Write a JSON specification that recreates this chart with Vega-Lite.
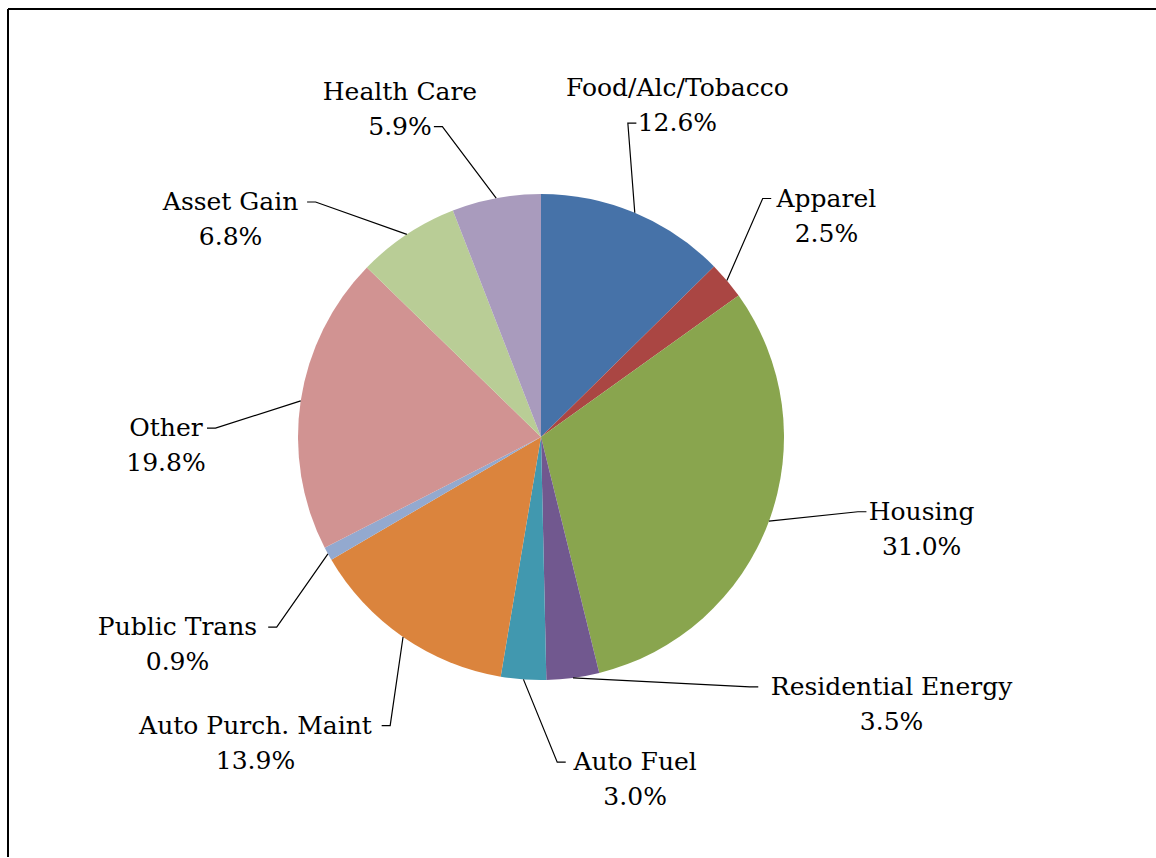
{
  "$schema": "https://vega.github.io/schema/vega-lite/v6.json",
  "autosize": "none",
  "padding": {"left": 8, "top": 9, "right": 0, "bottom": 0},
  "width": 1148,
  "height": 848,
  "background": "white",
  "view": {"stroke": "black", "strokeWidth": 2, "strokeDash": [1148, 1996, 848, 0]},
  "config": {
    "view": {"stroke": "black", "strokeWidth": 2},
    "text": {"font": "DejaVu Serif", "fontSize": 25, "lineHeight": 35, "color": "black"}
  },
  "data": {
    "values": [
      {"category": "Food/Alc/Tobacco", "value": 12.6},
      {"category": "Apparel", "value": 2.5},
      {"category": "Housing", "value": 31.0},
      {"category": "Residential Energy", "value": 3.5},
      {"category": "Auto Fuel", "value": 3.0},
      {"category": "Auto Purch. Maint", "value": 13.9},
      {"category": "Public Trans", "value": 0.9},
      {"category": "Other", "value": 19.8},
      {"category": "Asset Gain", "value": 6.8},
      {"category": "Health Care", "value": 5.9}
    ]
  },
  "transform": [
    {"window": [{"op": "sum", "field": "value", "as": "cum"}], "frame": [null, 0]},
    {"joinaggregate": [{"op": "sum", "field": "value", "as": "total"}]},
    {"calculate": "(datum.cum - datum.value) / datum.total", "as": "start"},
    {"calculate": "datum.cum / datum.total", "as": "end"},
    {"calculate": "2 * PI * (datum.cum - datum.value / 2) / datum.total", "as": "mid"},
    {"calculate": "datum.mid - 7 * PI / 180", "as": "ang"},
    {"calculate": "sin(datum.ang) >= 0 ? 1 : -1", "as": "side"},
    {"calculate": "1.34 * cos(datum.ang)", "as": "ny"},
    {"window": [{"op": "lead", "field": "ny", "as": "nyNext"}, {"op": "lead", "field": "side", "as": "sideNext"}], "frame": [null, null]},
    {"calculate": "datum.side > 0 && datum.sideNext > 0 ? max(datum.ny, datum.nyNext + 0.31) : (datum.side < 0 && datum.sideNext < 0 ? min(datum.ny, datum.nyNext - 0.31) : datum.ny)", "as": "ty"},
    {"calculate": "datum.side * sqrt(max(1.34 * 1.34 - datum.ty * datum.ty, 0))", "as": "tx"},
    {"calculate": "format(datum.value, '.1f') + '%'", "as": "pct"},
    {"calculate": "[datum.category, datum.pct]", "as": "label"},
    {"calculate": "(datum.ty > 1.1 ? length(datum.pct) : max(length(datum.category), length(datum.pct))) * 14.2", "as": "tw"}
  ],
  "layer": [
    {
      "mark": {"type": "arc", "radius": 243, "stroke": null},
      "encoding": {
        "x": {"datum": 0, "type": "quantitative", "axis": null, "scale": {"domain": [-2.19342, 2.53086], "nice": false, "zero": false}},
        "y": {"datum": 0, "type": "quantitative", "axis": null, "scale": {"domain": [-1.7284, 1.76132], "nice": false, "zero": false}},
        "theta": {"field": "start", "type": "quantitative", "scale": {"domain": [0, 1]}},
        "theta2": {"field": "end"},
        "color": {
          "field": "category",
          "type": "nominal",
          "legend": null,
          "scale": {
            "domain": ["Food/Alc/Tobacco", "Apparel", "Housing", "Residential Energy", "Auto Fuel", "Auto Purch. Maint", "Public Trans", "Other", "Asset Gain", "Health Care"],
            "range": ["#4672A8", "#AA4643", "#89A54E", "#71588F", "#4198AF", "#DB843D", "#93A9CF", "#D19392", "#B9CD96", "#A99BBD"]
          }
        }
      }
    },
    {
      "transform": [
        {"calculate": "[0, 1, 2]", "as": "pt"},
        {"flatten": ["pt"]},
        {"calculate": "datum.pt == 0 ? sin(datum.mid) : datum.tx + (datum.pt == 2 ? datum.side * 0.035 : 0)", "as": "lx"},
        {"calculate": "datum.pt == 0 ? cos(datum.mid) : datum.ty", "as": "ly"}
      ],
      "mark": {"type": "line", "color": "black", "strokeWidth": 1.2},
      "encoding": {
        "x": {"field": "lx", "type": "quantitative", "axis": null, "scale": {"domain": [-2.19342, 2.53086], "nice": false, "zero": false}},
        "y": {"field": "ly", "type": "quantitative", "axis": null, "scale": {"domain": [-1.7284, 1.76132], "nice": false, "zero": false}},
        "detail": {"field": "category"},
        "order": {"field": "pt"}
      }
    },
    {
      "mark": {
        "type": "text",
        "baseline": "middle",
        "align": "center",
        "dx": {"expr": "datum.side * (14 + datum.tw / 2)"},
        "dy": {"expr": "datum.ty > 1.1 ? -35 : 0"}
      },
      "encoding": {
        "x": {"field": "tx", "type": "quantitative", "axis": null, "scale": {"domain": [-2.19342, 2.53086], "nice": false, "zero": false}},
        "y": {"field": "ty", "type": "quantitative", "axis": null, "scale": {"domain": [-1.7284, 1.76132], "nice": false, "zero": false}},
        "text": {"field": "label"}
      }
    }
  ]
}
